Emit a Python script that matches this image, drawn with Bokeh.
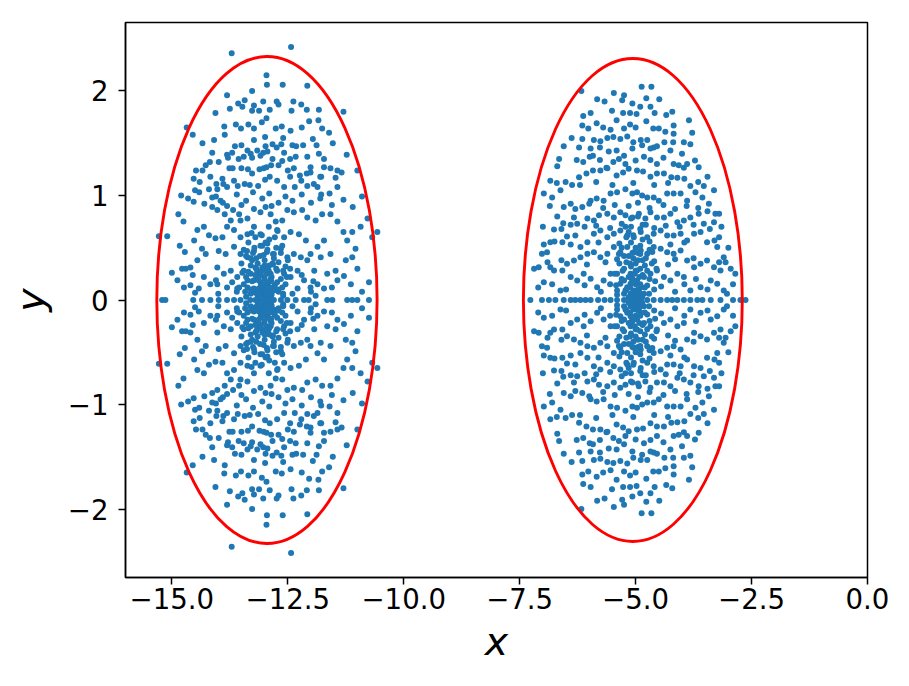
from bokeh.plotting import figure
from bokeh.models import Range1d, FixedTicker, CustomJSTickFormatter, ColumnDataSource
from bokeh.embed import file_html
from bokeh.resources import INLINE

# ---------------- data ----------------
# left cluster, upper half (the cloud is mirror-symmetric about y = 0)
LEFT_UP_X = [
    -13.71, -12.43, -12.96, -12.95, -12.61, -12.08, -13.27, -13.81, -13.57, -13.48,
    -13.43, -13.23, -13.03, -12.74, -12.70, -12.38, -12.21, -12.09, -11.83, -11.30,
    -14.06, -13.75, -13.27, -13.12, -12.89, -12.42, -12.96, -13.06, -12.63, -12.76,
    -12.44, -12.20, -12.04, -11.84, -11.76, -11.61, -13.62, -13.51, -13.35, -13.23,
    -13.87, -13.86, -14.09, -14.34, -14.68, -14.55, -13.23, -12.99, -12.60, -12.83,
    -12.64, -12.98, -11.96, -11.88, -11.53, -11.23, -13.64, -13.50, -13.81, -13.70,
    -13.37, -13.30, -13.16, -13.03, -12.94, -12.74, -12.58, -12.40, -12.32, -12.17,
    -12.33, -12.08, -11.83, -11.72, -14.13, -14.18, -14.27, -13.99, -13.79, -13.56,
    -13.45, -13.27, -13.09, -12.83, -12.62, -12.45, -12.01, -11.72, -11.43, -11.00,
    -14.48, -14.34, -14.53, -14.40, -14.17, -14.04, -13.91, -13.76, -13.69, -13.50,
    -13.36, -13.27, -13.11, -13.02, -12.96, -12.86, -12.70, -12.50, -12.37, -12.24,
    -12.09, -12.01, -11.80, -11.58, -11.47, -11.34, -11.43, -11.60, -14.80, -14.53,
    -14.41, -14.20, -14.02, -13.89, -13.81, -13.66, -13.58, -13.43, -13.32, -13.14,
    -12.99, -12.89, -12.73, -12.58, -12.45, -12.35, -12.21, -12.08, -11.94, -11.86,
    -11.78, -11.78,
    -14.86, -14.75, -15.28, -15.10, -14.83, -14.72, -14.78, -14.70, -14.88, -14.74,
    -14.60, -14.52, -14.35, -14.27, -14.45, -14.60, -14.31, -14.17, -14.42, -14.13,
    -13.95, -13.81, -13.68, -13.55, -14.13, -14.02, -13.86, -13.73, -13.52, -13.37,
    -13.23, -13.09, -12.98, -12.87, -12.76, -12.62, -12.51, -12.37, -12.19, -12.08,
    -11.90, -11.76, -11.58, -11.43, -11.30, -11.22, -11.11, -10.93, -10.78, -10.68,
    -10.57, -11.04, -11.11, -11.25, -11.47, -11.58, -11.72, -11.86, -12.01, -12.11,
    -12.26, -12.44, -12.58, -12.73, -12.91, -13.09, -13.23, -13.37, -13.52, -13.66,
    -13.81, -13.91, -14.06, -14.20, -14.31, -14.45, -13.99, -13.84, -13.66, -13.52,
    -13.37, -13.23, -13.09, -12.94, -12.80, -12.65, -12.51, -12.37, -12.22, -12.08,
    -11.93, -11.79, -11.65, -11.43, -11.29, -11.14, -10.75, -14.02, -13.88, -13.73,
    -13.59, -13.45, -13.30, -13.16, -13.01, -12.87, -12.73, -12.58, -12.44, -12.29,
    -12.15, -12.01, -11.86, -11.72, -14.02, -13.81, -13.59, -12.29,
    -13.23, -13.16, -13.09, -13.01, -12.94, -12.87, -12.80, -13.12, -12.98, -13.05,
    -13.20, -12.91, -12.83, -13.27, -13.37, -12.73, -12.62, -13.37, -13.23,
    -13.05, -12.95, -13.10, -12.90, -13.00, -13.15, -12.85, -13.20, -12.80, -13.30,
    -12.70, -13.00, -13.40, -12.60, -13.60, -12.40, -14.00, -12.00, -11.90, -14.50,
    -13.25, -13.10, -12.95, -12.80, -12.70, -13.30, -13.15, -13.00, -12.90, -13.05,
    -12.95, -13.12, -12.85, -13.20, -13.00, -12.92, -13.08, -13.00, -12.88, -13.15,
    -12.97, -13.03, -12.75, -13.27, -12.78, -13.35, -12.65, -13.45, -12.55, -13.40,
]
LEFT_UP_Y = [
    2.36, 2.42, 2.15, 2.06, 2.06, 2.05, 2.00, 1.96, 1.88, 1.85,
    1.91, 1.86, 1.90, 1.90, 1.87, 1.90, 1.87, 1.82, 1.82, 1.80,
    1.79, 1.83, 1.81, 1.81, 1.82, 1.81, 1.74, 1.70, 1.66, 1.64,
    1.62, 1.65, 1.71, 1.72, 1.64, 1.60, 1.68, 1.64, 1.68, 1.64,
    1.66, 1.58, 1.53, 1.50, 1.65, 1.58, 1.53, 1.56, 1.55, 1.49,
    1.49, 1.47, 1.54, 1.48, 1.50, 1.39, 1.47, 1.48, 1.39, 1.41,
    1.43, 1.40, 1.43, 1.41, 1.42, 1.46, 1.41, 1.48, 1.47, 1.48,
    1.37, 1.37, 1.40, 1.35, 1.41, 1.32, 1.29, 1.32, 1.36, 1.35,
    1.37, 1.36, 1.38, 1.35, 1.33, 1.35, 1.27, 1.27, 1.24, 1.24,
    1.24, 1.24, 1.16, 1.13, 1.18, 1.11, 1.16, 1.26, 1.26, 1.26,
    1.25, 1.21, 1.25, 1.26, 1.27, 1.29, 1.29, 1.24, 1.26, 1.19,
    1.21, 1.22, 1.18, 1.26, 1.17, 1.22, 1.08, 1.02, 1.00, 0.94,
    1.03, 1.06, 1.06, 1.11, 1.08, 1.14, 1.09, 1.11, 1.10, 1.09,
    1.15, 1.18, 1.14, 1.08, 1.18, 1.08, 1.14, 1.09, 1.11, 1.08,
    1.18, 1.01,
    0.82, 0.75, 0.61, 0.61, 0.52, 0.46, 0.30, 0.30, 0.19, 0.12,
    0.14, 0.57, 0.49, 0.44, 0.38, 0.31, 0.22, 0.15, 0.11, 0.98,
    0.95, 0.90, 0.86, 0.82, 0.89, 0.86, 0.82, 0.76, 0.76, 0.78,
    0.87, 0.84, 0.89, 0.82, 0.75, 0.76, 0.86, 0.84, 0.86, 0.79,
    0.76, 0.82, 0.82, 0.75, 0.65, 0.57, 0.65, 0.70, 0.78, 0.60,
    0.65, 0.49, 0.41, 0.38, 0.28, 0.44, 0.57, 0.51, 0.44, 0.57,
    0.63, 0.65, 0.60, 0.67, 0.70, 0.63, 0.70, 0.63, 0.60, 0.67,
    0.70, 0.60, 0.59, 0.62, 0.70, 0.67, 0.47, 0.44, 0.51, 0.44,
    0.41, 0.47, 0.52, 0.54, 0.44, 0.49, 0.41, 0.44, 0.41, 0.38,
    0.28, 0.41, 0.25, 0.19, 0.23, 0.15, 0.17, 0.31, 0.25, 0.28,
    0.22, 0.28, 0.25, 0.28, 0.31, 0.25, 0.28, 0.25, 0.22, 0.28,
    0.19, 0.12, 0.15, 0.11, 0.15, 0.12, 0.11, 0.11,
    0.19, 0.23, 0.17, 0.22, 0.15, 0.20, 0.12, 0.11, 0.10, 0.28,
    0.31, 0.28, 0.35, 0.38, 0.19, 0.17, 0.12, 0.12, 0.11,
    0.05, 0.03, 0.08, 0.07, 0.02, 0.04, 0.05, 0.07, 0.09, 0.06,
    0.08, 0.09, 0.03, 0.04, 0.08, 0.06, 0.06, 0.08, 0.04, 0.07,
    0.45, 0.42, 0.46, 0.40, 0.36, 0.33, 0.35, 0.38, 0.33, 0.31,
    0.25, 0.27, 0.22, 0.24, 0.20, 0.17, 0.14, 0.12, 0.12, 0.10,
    0.06, 0.15, 0.30, 0.18, 0.14, 0.27, 0.20, 0.15, 0.32, 0.42,
]
# further left-cluster points (upper half) in the thinner bands and the core
LEFT_MORE_X = [
    -14.65, -14.30, -14.05, -13.90, -13.60, -13.40, -13.25, -13.05, -12.90, -12.70,
    -12.55, -12.40, -12.20, -12.00, -11.80, -11.55, -11.30, -11.10, -10.90, -13.50,
    -12.85, -14.50, -14.55, -14.05, -13.70, -12.20, -11.95, -11.55, -11.00, -10.90,
    -15.00, -13.35, -13.20, -13.05, -12.90, -12.75, -12.65, -13.45, -13.30, -12.60,
    -12.70, -13.30, -13.40, -12.55, -13.50, -12.50, -13.12, -12.88, -13.18, -12.82,
    -13.02, -12.98, -13.22, -12.78, -13.42, -12.60, -13.08, -12.93, -13.13, -12.86,
    -13.00, -13.48, -12.52, -13.55, -12.45, -13.38, -12.62, -13.28, -12.72, -13.18,
    -12.82, -13.06, -12.94,
]
LEFT_MORE_Y = [
    0.97, 0.92, 0.99, 0.93, 1.01, 0.95, 1.03, 0.97, 1.02, 0.93,
    0.99, 0.95, 1.01, 0.93, 0.97, 0.91, 0.96, 0.89, 0.99, 0.91,
    0.90, 1.05, 0.24, 0.19, 0.17, 0.24, 0.18, 0.12, 0.30, 0.08,
    0.26, 0.55, 0.60, 0.52, 0.58, 0.50, 0.45, 0.48, 0.40, 0.28,
    0.10, 0.10, 0.22, 0.15, 0.35, 0.38, 0.05, 0.02, 0.30, 0.34,
    0.43, 0.55, 0.50, 0.60, 0.08, 0.06, 0.24, 0.29, 0.19, 0.18,
    0.33, 0.26, 0.22, 0.12, 0.30, 0.47, 0.52, 0.64, 0.66, 0.40,
    0.44, 0.62, 0.48,
]
# left cluster, points lying on y = 0
LEFT_AXIS_X = [
    -15.21, -15.14, -14.54, -14.35, -14.17, -13.99, -13.81, -13.66, -13.52, -13.31,
    -13.20, -13.10, -13.00, -12.90, -12.80, -12.65, -12.51, -12.33, -12.15, -12.05,
    -11.65, -11.54, -11.22, -11.11, -11.00, -10.75,
]

# right cluster, upper half (mirror-symmetric about y = 0)
RIGHT_UP_X = [
    -4.87, -4.66, -6.17, -5.47, -5.25, -5.83, -5.67, -5.29, -5.07, -4.77,
    -4.49, -4.90, -4.68, -5.51, -5.27, -5.12, -4.98, -4.59, -4.34, -4.21,
    -6.13, -5.97, -6.15, -6.02, -5.84, -5.70, -5.54, -5.41, -5.25, -5.12,
    -5.00, -4.77, -4.62, -4.50, -4.18, -3.85, -3.78, -4.36, -4.18, -6.38,
    -6.15, -5.90, -5.76, -5.61, -5.48, -5.33, -5.18, -5.05, -4.89, -4.75,
    -4.61, -4.38, -4.19, -3.96, -3.82, -6.55, -6.22, -5.97, -5.77, -5.58,
    -5.41, -5.25, -5.07, -4.86, -4.68, -4.54, -4.25, -4.00, -6.65, -6.69,
    -6.27, -6.13, -5.99, -5.92, -5.77, -5.63, -5.48, -5.36, -5.22, -5.00,
    -4.82, -4.68, -4.54, -4.40, -4.18, -4.07, -3.96, -3.89, -3.72, -3.64,
    -6.84, -6.98, -6.80, -6.62, -6.51, -6.37, -6.22, -6.06, -5.92, -5.76,
    -5.61, -5.41, -5.27, -5.15, -4.97, -4.84, -4.68, -4.54, -4.39, -4.23,
    -4.10, -3.95, -3.82, -3.53, -3.31, -6.40, -6.55, -6.15, -5.97, -5.84,
    -5.69, -5.54, -5.40, -5.22, -5.07, -4.97, -4.86, -4.75, -4.61, -4.50,
    -4.32, -4.18, -4.03, -3.89, -3.71, -3.56, -3.42, -3.28, -3.20, -6.69,
    -6.56, -6.33, -6.26, -6.04, -5.90, -5.79, -5.61, -5.47, -5.33, -5.22,
    -5.07, -4.93, -4.79, -4.68, -4.54, -4.39, -4.25, -4.10, -3.96, -3.82,
    -3.64, -3.53, -3.31, -3.20, -6.76, -6.98, -6.84, -7.02, -6.91, -6.58,
    -6.48, -6.30, -6.19, -6.04, -5.90, -5.76, -5.61, -5.47, -5.33, -5.18,
    -5.04, -4.89, -4.75, -4.61, -4.46, -4.32, -4.18, -4.03, -3.89, -3.74,
    -3.60, -3.46, -3.24, -3.10, -7.19, -7.09, -6.84, -6.76, -6.58, -6.48,
    -6.33, -6.19, -6.04, -5.90, -5.76, -5.61, -5.47, -5.33, -5.18, -5.04,
    -4.89, -4.75, -4.61, -4.46, -4.32, -4.18, -4.03, -3.89, -3.74, -3.60,
    -3.46, -3.31, -3.17, -3.06, -6.98, -6.62, -6.40, -6.26, -6.12, -5.97,
    -5.83, -5.69, -5.54, -5.40, -5.25, -5.11, -4.97, -4.82, -4.68, -4.54,
    -4.39, -4.25, -4.10, -3.96, -3.82, -3.60, -3.38, -3.24, -3.10, -3.03,
    -5.25, -5.18, -5.11, -5.04, -4.97, -4.89, -4.82, -5.11, -5.25, -5.40,
    -4.75, -5.33, -5.00, -5.15, -4.86, -5.22, -4.93, -5.07, -4.97, -4.71,
    -5.00, -5.10, -4.90, -5.05, -4.95, -5.15, -4.85, -5.20, -4.80, -5.02,
    -4.92, -5.08, -5.00, -4.95, -5.05, -5.00, -4.90, -5.12, -4.88, -5.30,
    -4.70, -5.35, -4.65, -5.00, -5.10, -4.90, -5.40, -4.60,
]
RIGHT_UP_Y = [
    2.04, 2.04, 2.00, 1.98, 1.96, 1.92, 1.90, 1.91, 1.88, 1.93,
    1.92, 1.85, 1.85, 1.81, 1.79, 1.79, 1.78, 1.79, 1.77, 1.80,
    1.76, 1.79, 1.67, 1.64, 1.69, 1.65, 1.63, 1.72, 1.64, 1.68,
    1.65, 1.71, 1.64, 1.64, 1.67, 1.72, 1.60, 1.61, 1.59, 1.55,
    1.54, 1.53, 1.52, 1.55, 1.56, 1.54, 1.565, 1.51, 1.53, 1.53,
    1.46, 1.51, 1.51, 1.51, 1.49, 1.47, 1.46, 1.45, 1.46, 1.42,
    1.43, 1.38, 1.45, 1.48, 1.45, 1.47, 1.43, 1.40, 1.35, 1.28,
    1.34, 1.32, 1.37, 1.38, 1.34, 1.265, 1.32, 1.35, 1.30, 1.335,
    1.37, 1.34, 1.30, 1.36, 1.30, 1.29, 1.265, 1.30, 1.335, 1.27,
    1.14, 1.02, 0.98, 1.05, 1.13, 1.10, 1.175, 1.21, 1.24, 1.24,
    1.26, 1.19, 1.22, 1.255, 1.24, 1.23, 1.18, 1.21, 1.21, 1.175,
    1.17, 1.16, 1.09, 1.09, 1.05, 0.92, 0.89, 0.89, 0.95, 0.97,
    0.95, 1.02, 1.03, 1.06, 1.02, 1.03, 1.00, 0.98, 0.98, 0.95,
    1.02, 1.02, 1.02, 0.95, 1.03, 0.98, 0.92, 0.825, 0.825, 0.80,
    0.735, 0.79, 0.73, 0.78, 0.76, 0.81, 0.825, 0.79, 0.84, 0.81,
    0.79, 0.825, 0.78, 0.84, 0.79, 0.79, 0.825, 0.745, 0.76, 0.79,
    0.825, 0.73, 0.745, 0.60, 0.675, 0.53, 0.553, 0.442, 0.458, 0.553,
    0.608, 0.617, 0.506, 0.553, 0.634, 0.665, 0.60, 0.634, 0.665, 0.617,
    0.60, 0.65, 0.60, 0.634, 0.665, 0.617, 0.617, 0.634, 0.57, 0.634,
    0.65, 0.553, 0.506, 0.41, 0.298, 0.314, 0.314, 0.282, 0.282, 0.346,
    0.378, 0.41, 0.442, 0.458, 0.41, 0.442, 0.506, 0.458, 0.506, 0.458,
    0.474, 0.442, 0.506, 0.49, 0.458, 0.442, 0.474, 0.378, 0.314, 0.346,
    0.378, 0.314, 0.282, 0.362, 0.171, 0.091, 0.219, 0.187, 0.25, 0.203,
    0.123, 0.187, 0.25, 0.25, 0.298, 0.25, 0.282, 0.219, 0.25, 0.282,
    0.219, 0.187, 0.25, 0.219, 0.091, 0.123, 0.187, 0.155, 0.091, 0.059,
    0.187, 0.123, 0.155, 0.091, 0.187, 0.123, 0.059, 0.059, 0.059, 0.091,
    0.139, 0.155, 0.027, 0.027, 0.027, 0.091, 0.091, 0.203, 0.059, 0.059,
    0.35, 0.32, 0.30, 0.40, 0.45, 0.42, 0.38, 0.36, 0.33, 0.25,
    0.22, 0.20, 0.15, 0.10, 0.08, 0.05, 0.15, 0.12, 0.05, 0.20,
    0.20, 0.35, 0.35, 0.50, 0.55, 0.52, 0.05, 0.10,
]
# further right-cluster points (upper half) in the thinner bands and the core
RIGHT_MORE_X = [
    -6.85, -6.30, -6.00, -5.70, -5.45, -5.15, -4.95, -4.70, -4.40, -4.15,
    -3.90, -3.65, -3.45, -7.00, -6.60, -6.40, -6.10, -5.85, -5.55, -5.30,
    -5.10, -4.85, -4.60, -4.35, -4.05, -3.75, -3.40, -3.15, -6.75, -6.40,
    -5.80, -5.35, -4.70, -4.25, -3.95, -3.30, -3.00, -6.90, -6.60, -6.05,
    -5.65, -5.40, -4.60, -4.30, -4.15, -3.75, -3.20, -2.95, -7.10, -6.80,
    -6.50, -6.10, -5.75, -5.55, -4.45, -4.15, -3.95, -3.70, -3.45, -2.90,
    -2.85, -6.70, -6.20, -5.85, -5.50, -5.05, -4.60, -4.30, -3.65, -3.45,
    -5.30, -5.20, -5.05, -4.85, -4.70, -4.75, -5.28, -5.20, -4.80, -5.15,
    -4.85, -5.00, -4.95, -5.07, -4.90, -5.12, -5.25, -4.78, -5.03, -4.97,
    -5.08, -4.92, -5.45, -4.55, -5.15, -4.90, -5.42, -4.58, -5.36, -4.64,
    -5.22, -4.78, -5.10, -4.95,
]
RIGHT_MORE_Y = [
    0.90, 0.87, 0.92, 0.88, 0.91, 0.90, 0.93, 0.88, 0.91, 0.87,
    0.90, 0.88, 0.85, 0.70, 0.68, 0.72, 0.70, 0.71, 0.69, 0.73,
    0.70, 0.72, 0.69, 0.71, 0.70, 0.72, 0.68, 0.70, 0.56, 0.53,
    0.55, 0.54, 0.56, 0.53, 0.55, 0.57, 0.50, 0.36, 0.38, 0.34,
    0.36, 0.39, 0.37, 0.34, 0.39, 0.40, 0.36, 0.30, 0.12, 0.15,
    0.10, 0.14, 0.08, 0.15, 0.13, 0.08, 0.15, 0.20, 0.10, 0.15,
    0.25, 1.12, 1.10, 1.13, 1.10, 1.12, 1.10, 1.12, 1.13, 1.18,
    0.50, 0.60, 0.62, 0.58, 0.48, 0.28, 0.28, 0.10, 0.12, 0.22,
    0.24, 0.28, 0.38, 0.45, 0.44, 0.35, 0.42, 0.40, 0.18, 0.03,
    0.02, 0.07, 0.25, 0.30, 0.65, 0.68, 0.14, 0.18, 0.44, 0.46,
    0.70, 0.72, 0.78, 0.80,
]
# right cluster, points lying on y = 0
RIGHT_AXIS_X = [
    -7.27, -7.02, -6.87, -6.73, -6.55, -6.40, -6.30, -6.19, -6.08, -5.97,
    -5.81, -5.67, -5.54, -5.40, -5.25, -5.10, -5.00, -4.90, -4.75, -4.61,
    -4.46, -4.32, -4.21, -4.10, -3.96, -3.82, -3.67, -3.56, -3.38, -3.17,
    -2.90, -2.74, -2.63,
]

# red boundary ellipses
ELL_X = [-12.95, -5.06]
ELL_Y = [0.0, 0.0]
ELL_W = [4.75, 4.72]
ELL_H = [4.66, 4.62]

X_TICKS = [-15.0, -12.5, -10.0, -7.5, -5.0, -2.5, 0.0]
Y_TICKS = [-2, -1, 0, 1, 2]

# ---------------- assemble points ----------------
left_x = LEFT_UP_X + LEFT_MORE_X
left_y = LEFT_UP_Y + LEFT_MORE_Y
right_x = RIGHT_UP_X + RIGHT_MORE_X
right_y = RIGHT_UP_Y + RIGHT_MORE_Y
xs = (left_x + left_x + LEFT_AXIS_X + right_x + right_x + RIGHT_AXIS_X)
ys = (left_y + [-v for v in left_y] + [0.0] * len(LEFT_AXIS_X)
      + right_y + [-v for v in right_y] + [0.0] * len(RIGHT_AXIS_X))
pts = ColumnDataSource(data=dict(x=xs, y=ys))
ell = ColumnDataSource(data=dict(x=ELL_X, y=ELL_Y, w=ELL_W, h=ELL_H))

FONT = "DejaVu Sans"

p = figure(width=909, height=686,
           x_range=Range1d(-16, 0), y_range=Range1d(-2.655, 2.655),
           output_backend="svg", toolbar_location=None,
           min_border_left=125, min_border_right=42,
           min_border_top=22, min_border_bottom=109)
p.background_fill_color = "white"
p.border_fill_color = "white"
p.outline_line_color = "black"
p.outline_line_width = 1.5
p.outline_line_alpha = 1.0
p.xgrid.visible = False
p.ygrid.visible = False

p.scatter("x", "y", source=pts, size=6.0, marker="circle",
          fill_color="#1f77b4", line_color=None)
p.ellipse(x="x", y="y", width="w", height="h", source=ell,
          fill_color=None, line_color="red", line_width=2.9)

p.xaxis.ticker = FixedTicker(ticks=X_TICKS)
p.yaxis.ticker = FixedTicker(ticks=Y_TICKS)
p.xaxis.formatter = CustomJSTickFormatter(
    code="return (tick < 0 ? '\u2212' : '') + Math.abs(tick).toFixed(1);")
p.yaxis.formatter = CustomJSTickFormatter(
    code="return (tick < 0 ? '\u2212' : '') + Math.abs(tick).toFixed(0);")

for ax in (p.xaxis[0], p.yaxis[0]):
    ax.axis_line_color = "black"
    ax.axis_line_width = 1.5
    ax.major_tick_line_color = "black"
    ax.major_tick_line_width = 1.5
    ax.major_tick_out = 7
    ax.major_tick_in = 0
    ax.minor_tick_line_color = None
    ax.major_label_text_font = FONT
    ax.major_label_text_font_size = "27.6px"
    ax.major_label_text_color = "black"
    ax.axis_label_text_font = FONT
    ax.axis_label_text_font_size = "39.4px"
    ax.axis_label_text_font_style = "italic"
    ax.axis_label_text_color = "black"

p.xaxis.axis_label = "x"
p.yaxis.axis_label = "y"
p.xaxis.major_label_standoff = 3
p.yaxis.major_label_standoff = 10
p.xaxis.axis_label_standoff = 6
p.yaxis.axis_label_standoff = 12

open("out.html", "w").write(file_html(p, INLINE))
